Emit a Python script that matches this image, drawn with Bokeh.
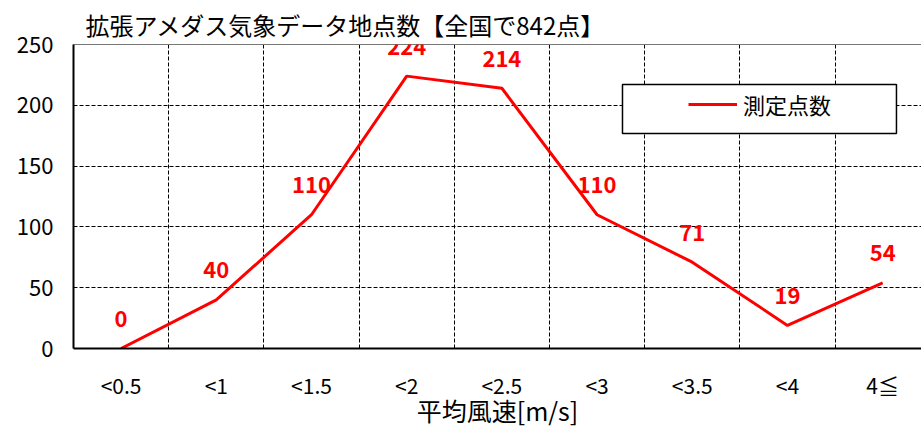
from bokeh.plotting import figure
from bokeh.models import (ColumnDataSource, LabelSet, Legend, LegendItem, BoxAnnotation,
                          FixedTicker, LinearAxis, Range1d)
from bokeh.core.properties import value
from bokeh.embed import file_html
from bokeh.resources import INLINE

# ---- data ----
categories = ["<0.5", "<1", "<1.5", "<2", "<2.5", "<3", "<3.5", "<4", "4≦"]
counts = [0, 40, 110, 224, 214, 110, 71, 19, 54]
y_ticks = [0, 50, 100, 150, 200, 250]
title_text = "拡張アメダス気象データ地点数【全国で842点】"
x_label = "平均風速[m/s]"
series_name = "測定点数"

FONT = "Noto Sans CJK JP"
xs = list(range(len(categories)))

p = figure(width=921, height=430, output_backend="svg", toolbar_location=None,
           x_range=Range1d(-0.5, 8.408), y_range=Range1d(0, 250),
           min_border_left=73, min_border_right=0, min_border_top=44, min_border_bottom=82)
p.background_fill_color = "white"
p.border_fill_color = "white"
p.outline_line_color = None

# title
p.title.text = title_text
p.title.text_font = FONT
p.title.text_font_size = "24px"
p.title.text_font_style = "normal"
p.title.text_color = "black"
p.title.align = "left"
p.title.offset = 12
p.title.standoff = 5

xa = p.xaxis[0]
ya = p.yaxis[0]

# axes
xa.ticker = FixedTicker(ticks=xs)
xa.major_label_overrides = {i: c for i, c in enumerate(categories)}
ya.ticker = FixedTicker(ticks=y_ticks)
for ax in (xa, ya):
    ax.axis_line_color = "black"
    ax.axis_line_width = 2
    ax.major_tick_line_color = None
    ax.minor_tick_line_color = None
    ax.major_label_text_font = FONT
    ax.major_label_text_font_size = "21px"
    ax.major_label_text_color = "black"
    ax.major_label_text_line_height = 1.0
xa.major_label_standoff = 15
ya.major_label_standoff = 14
ya.major_label_text_font_size = "22px"
xa.axis_label = x_label
xa.axis_label_text_font = FONT
xa.axis_label_text_font_size = "25px"
xa.axis_label_text_font_style = "normal"
xa.axis_label_text_color = "black"
xa.axis_label_text_line_height = 1.0
xa.axis_label_standoff = -11

# top border line
top_axis = LinearAxis(ticker=FixedTicker(ticks=[]), axis_line_color="#777777", axis_line_width=1,
                      major_tick_line_color=None, minor_tick_line_color=None)
p.add_layout(top_axis, "above")

# grids
p.xgrid.ticker = FixedTicker(ticks=[i + 0.5 for i in xs[:-1]])
p.ygrid.ticker = FixedTicker(ticks=y_ticks)
for g in (p.xgrid[0], p.ygrid[0]):
    g.grid_line_color = "black"
    g.grid_line_dash = "4 2"
    g.grid_line_width = 1

# series
src = ColumnDataSource(dict(x=xs, y=counts, t=[str(v) for v in counts]))
r = p.line("x", "y", source=src, line_color="#FF0000", line_width=3)

labels = LabelSet(x="x", y="y", text="t", source=src, y_offset=30,
                  text_align="center", text_baseline="middle",
                  text_font=value(FONT), text_font_size=value("22px"), text_font_style="bold",
                  text_color="#FF0000")
p.add_layout(labels)

# legend box
box = BoxAnnotation(left=5.267, right=8.145, bottom=176.8, top=217.1,
                    fill_color="white", fill_alpha=1.0, line_color="black", line_alpha=1.0,
                    line_width=1.5)
p.add_layout(box)

legend = Legend(items=[LegendItem(label=series_name, renderers=[r])],
                location=(615, 228), border_line_color=None, background_fill_alpha=0,
                padding=0, margin=0, spacing=0, glyph_width=49, glyph_height=26,
                label_standoff=6, label_height=26,
                label_text_font=FONT, label_text_font_size="22px", label_text_color="black")
p.add_layout(legend)

open("out.html", "w").write(file_html(p, INLINE))
